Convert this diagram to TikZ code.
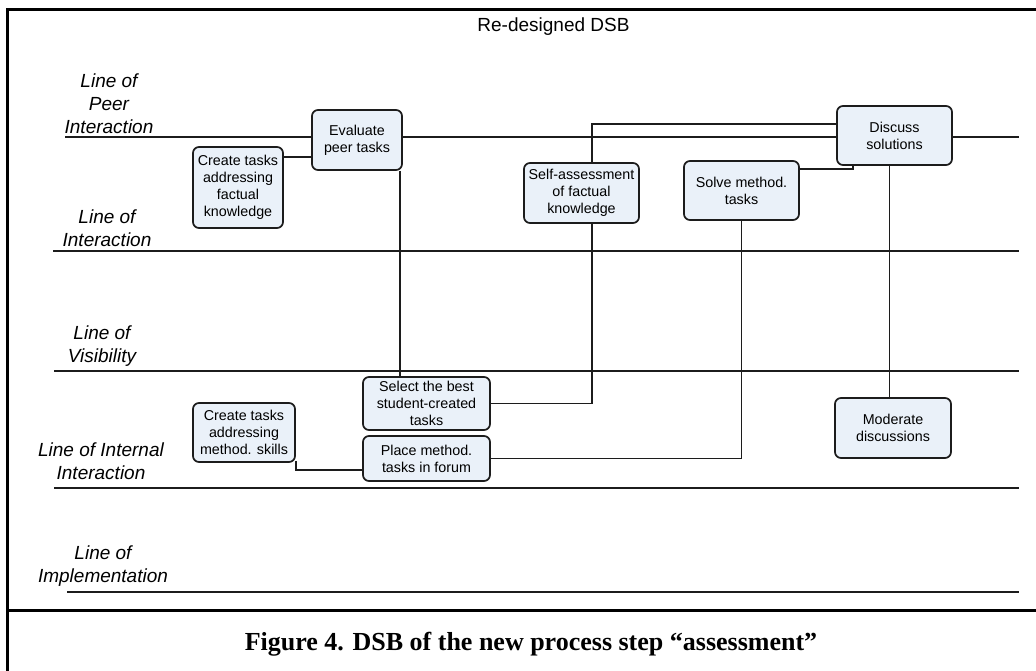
\documentclass[tikz,border=0pt]{standalone}
\usepackage{fontspec}
\setmainfont{Liberation Sans}
\newfontfamily\capfont{Liberation Serif}
\usetikzlibrary{calc}
\definecolor{boxfill}{RGB}{234,241,249}
\definecolor{ink}{RGB}{28,28,28}

\begin{document}
\begin{tikzpicture}[x=1pt,y=-1pt,
  lane/.style={line width=1.6pt, draw=ink},
  lanelabel/.style={align=center, inner sep=0pt,
    font=\fontsize{19}{23}\selectfont\itshape},
  task/.style={draw=ink, fill=boxfill, rounded corners=6pt, line width=1.7pt,
    align=center, inner sep=0pt, font=\fontsize{14.3}{17}\selectfont},
  link/.style={line width=1.4pt, draw=ink},
  frame/.style={line width=3pt, draw=black}]
\useasboundingbox (0,0) rectangle (1036,671);

% outer frame and caption separator
\draw[frame] (1040,10) -- (7,10) -- (7,675);
\draw[frame] (7,610) -- (1040,610);

% swimlane lines
\draw[lane] (65,137) -- (1019,137);
\draw[lane] (53,251) -- (1019,251);
\draw[lane] (54,371) -- (1019,371);
\draw[lane] (54,488) -- (1019,488);
\draw[lane] (67,592) -- (1019,592);

% titles
\node[anchor=base, inner sep=0pt, font=\fontsize{19}{23}\selectfont] (title) at (553.5,32) {Re-designed DSB};
\node[anchor=base, inner sep=0pt, font=\capfont\bfseries\fontsize{26}{30}\selectfont] (caption) at (531,650)
  {Figure 4. DSB of the new process step “assessment”};

% lane labels
\node[lanelabel] (lblPeer) at (109,103.5) {Line of\\Peer\\Interaction};
\node[lanelabel] (lblInter) at (107,228.5) {Line of\\Interaction};
\node[lanelabel] (lblVis) at (102,346.5) {Line of\\Visibility};
\node[lanelabel] (lblInt) at (101,461) {Line of Internal\\Interaction};
\node[lanelabel] (lblImpl) at (103,566) {Line of\\Implementation};

% activities
\node[task, minimum width=90pt, minimum height=60pt] (eval) at (357,140) {Evaluate\\peer tasks};
\node[task, minimum width=90pt, minimum height=81pt] (createF) at (238,187.5) {Create tasks\\addressing\\factual\\knowledge};
\node[task, minimum width=115pt, minimum height=60pt] (self) at (581.5,193) {Self-assessment\\of factual\\knowledge};
\node[task, minimum width=115pt, minimum height=59pt] (solve) at (741.5,190.5) {Solve method.\\tasks};
\node[task, minimum width=115pt, minimum height=59pt] (discuss) at (894.5,135.5) {Discuss\\solutions};
\node[task, minimum width=116pt, minimum height=60pt] (moderate) at (893,428) {Moderate\\discussions};
\node[task, minimum width=127pt, minimum height=53pt] (select) at (426.5,403.5) {Select the best\\student-created\\tasks};
\node[task, minimum width=127pt, minimum height=45pt] (place) at (426.5,458.5) {Place method.\\tasks in forum};
\node[task, minimum width=102pt, minimum height=59pt] (createM) at (244,432.5) {Create tasks\\addressing\\method. skills};

% connectors
\coordinate (pF) at ($(createF.north east)+(0,11)$);
\draw[link] (pF) -- (eval.west |- pF);

\coordinate (pE) at ($(eval.south east)+(-3,0)$);
\draw[link] (pE) -- (pE |- select.north);

\coordinate (pD) at ($(discuss.west)+(0,-11.5)$);
\coordinate (pS) at ($(self.north)+(10.5,0)$);
\draw[link] (pD) -| (pS);

\coordinate (pSb) at ($(self.south)+(10.5,0)$);
\draw[link] (select.east) -| (pSb);

\coordinate (pV) at ($(solve.north east)+(0,9)$);
\coordinate (pDb) at ($(discuss.south west)+(17,0)$);
\draw[link] (pV) -| (pDb);

\draw[link] (place.east) -| (solve.south);

\coordinate (pM) at ($(discuss.south)+(-5,0)$);
\draw[link] (pM) -- (pM |- moderate.north);

\coordinate (pP) at ($(place.west)+(0,11.5)$);
\draw[link] ($(createM.south east)+(0,-2)$) |- (pP);
\end{tikzpicture}
\end{document}
